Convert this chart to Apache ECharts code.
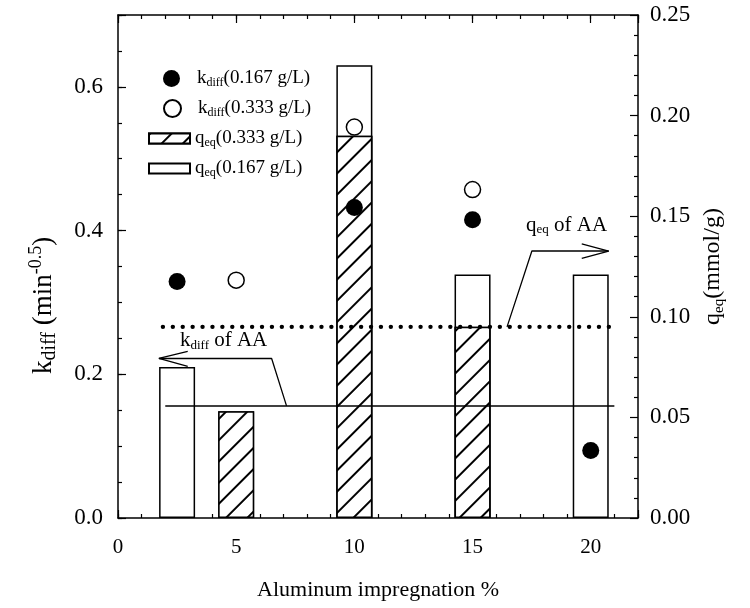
<!DOCTYPE html>
<html>
<head>
<meta charset="utf-8">
<script src="https://cdn.jsdelivr.net/npm/echarts@6/dist/echarts.min.js"></script>
<style>
html, body { margin: 0; background: #fff; }
#chart { width: 750px; height: 608px; }
</style>
</head>
<body>
<div id="chart"></div>
<script>
// k_diff points (left axis)
const kdiffX167 = [2.5, 10, 15, 20];
const kdiff167 = [0.329, 0.432, 0.415, 0.094];
const kdiffX333 = [5, 10, 15];
const kdiff333 = [0.331, 0.544, 0.457];
// q_eq bars (right axis)
const qeqX167 = [2.5, 10, 15, 20];
const qeq167 = [0.075, 0.225, 0.121, 0.121];
const qeqX333 = [5, 10, 15];
const qeq333 = [0.053, 0.190, 0.095];
// reference levels of AA
const aaRange = [1.9, 21];
const aaKdiff = 0.156;
const aaQeq = 0.095;

const FONT = 'Liberation Serif';
const pairs = (xs, ys) => xs.map((x, i) => [x, ys[i]]);

const rich = {
  a: { fontFamily: FONT, fontSize: 27, color: '#000' },
  s: { fontFamily: FONT, fontSize: 20, color: '#000', padding: [13, 0, 0, 0] },
  p: { fontFamily: FONT, fontSize: 18, color: '#000', padding: [0, 0, 15, 0] },
  r: { fontFamily: FONT, fontSize: 24, color: '#000' },
  rs: { fontFamily: FONT, fontSize: 15, color: '#000', padding: [11, 0, 0, 0] },
  b: { fontFamily: FONT, fontSize: 21, color: '#000' },
  bs: { fontFamily: FONT, fontSize: 13, color: '#000', padding: [10, 0, 0, 0] },
  l: { fontFamily: FONT, fontSize: 19, color: '#000' },
  ls: { fontFamily: FONT, fontSize: 12, color: '#000', padding: [9, 0, 0, 0] }
};

const legendText = {
  kdiff167: '{l|k}{ls|diff}{l|(0.167 g/L)}',
  kdiff333: '{l|k}{ls|diff}{l|(0.333 g/L)}',
  qeq333: '{l|q}{ls|eq}{l|(0.333 g/L)}',
  qeq167: '{l|q}{ls|eq}{l|(0.167 g/L)}'
};

const hatch = {
  symbol: 'rect', symbolSize: 1,
  dashArrayX: [1, 0], dashArrayY: [1.6, 12.5],
  rotation: -Math.PI / 4,
  color: '#000', backgroundColor: '#fff'
};

// onZero off: otherwise the top/right axes get pulled onto the other axis' zero
const lineAxis = { show: true, onZero: false, lineStyle: { color: '#000', width: 1.5 } };
const noLine = { show: false, onZero: false };
const tickStyle = { color: '#000', width: 1.2 };
const isMult = (v, step) => Math.abs(v / step - Math.round(v / step)) < 1e-6;

const chart = echarts.init(document.getElementById('chart'));

// one legend per row so the rows sit exactly 30px apart
const legendRows = [
  { name: 'kdiff167', left: 158, top: 64, w: 41, h: 17 },
  { name: 'kdiff333', left: 158, top: 94, w: 41, h: 17 },
  { name: 'qeq333', left: 143, top: 124, w: 41, h: 10 },
  { name: 'qeq167', left: 143, top: 154, w: 41, h: 10 }
];

const xBase = { type: 'value', min: 0, max: 22, splitLine: { show: false } };
const option = {
  animation: false,
  backgroundColor: '#fff',
  grid: { left: 118, right: 112, top: 15, bottom: 90 },
  legend: legendRows.map(r => ({
    data: [r.name], left: r.left, top: r.top,
    itemWidth: r.w, itemHeight: r.h, icon: r.h < 15 ? 'rect' : undefined,
    formatter: n => legendText[n], textStyle: { rich: rich }, selectedMode: false
  })),
  xAxis: [
    Object.assign({}, xBase, {
      position: 'bottom', interval: 1,
      axisLine: lineAxis,
      axisTick: { inside: true, length: 4, lineStyle: tickStyle },
      axisLabel: {
        margin: 19, fontFamily: FONT, fontSize: 21, color: '#000',
        formatter: v => (isMult(v, 5) ? String(v) : '')
      },
      name: 'Aluminum impregnation %', nameLocation: 'middle', nameGap: 61,
      nameTextStyle: { fontFamily: FONT, fontSize: 22, color: '#000' }
    }),
    Object.assign({}, xBase, {
      position: 'bottom', interval: 5,
      axisLine: noLine,
      axisTick: { inside: true, length: 8, lineStyle: tickStyle },
      axisLabel: { show: false }
    }),
    Object.assign({}, xBase, {
      position: 'top', interval: 1,
      axisLine: lineAxis,
      axisTick: { inside: true, length: 4, lineStyle: tickStyle },
      axisLabel: { show: false }
    }),
    Object.assign({}, xBase, {
      position: 'top', interval: 5,
      axisLine: noLine,
      axisTick: { inside: true, length: 8, lineStyle: tickStyle },
      axisLabel: { show: false }
    })
  ],
  yAxis: [
    {
      type: 'value', position: 'left', min: 0, max: 0.7, interval: 0.05,
      splitLine: { show: false },
      axisLine: lineAxis,
      axisTick: { inside: true, length: 4, lineStyle: tickStyle },
      axisLabel: {
        margin: 15, fontFamily: FONT, fontSize: 23, color: '#000',
        formatter: v => (isMult(v, 0.2) ? v.toFixed(1) : '')
      },
      name: '{a|k}{s|diff}{a| (min}{p|-0.5}{a|)}',
      nameLocation: 'middle', nameGap: 58, nameRotate: 90,
      nameTextStyle: { rich: rich, padding: [0, 78, 0, 0] }
    },
    {
      type: 'value', position: 'right', min: 0, max: 0.25, interval: 0.05,
      splitLine: { show: false },
      axisLine: lineAxis,
      axisTick: { inside: true, length: 8, lineStyle: tickStyle },
      minorTick: { show: true, splitNumber: 5, length: 4, lineStyle: tickStyle },
      axisLabel: {
        margin: 12, fontFamily: FONT, fontSize: 23, color: '#000',
        formatter: v => v.toFixed(2)
      },
      name: '{r|q}{rs|eq}{r|(mmol/g)}',
      nameLocation: 'middle', nameGap: 56, nameRotate: 90,
      nameTextStyle: { rich: rich }
    },
    {
      type: 'value', position: 'left', min: 0, max: 0.7, interval: 0.2,
      splitLine: { show: false },
      axisLine: noLine,
      axisTick: { inside: true, length: 8, lineStyle: tickStyle },
      axisLabel: { show: false }
    }
  ],
  series: [
    {
      name: 'qeq167', type: 'bar', yAxisIndex: 1, barWidth: 36, barGap: '-100%',
      itemStyle: { color: '#fff', borderColor: '#000', borderWidth: 1.5 },
      data: pairs(qeqX167, qeq167)
    },
    {
      name: 'qeq333', type: 'bar', yAxisIndex: 1, barWidth: 36, barGap: '-100%',
      itemStyle: { color: '#fff', borderColor: '#000', borderWidth: 1.5, decal: hatch },
      data: pairs(qeqX333, qeq333)
    },
    {
      name: 'aaQeq', type: 'line', yAxisIndex: 1, symbol: 'none', silent: true,
      lineStyle: { color: '#000', width: 4.4, type: [0.01, 9.9], cap: 'round' },
      data: aaRange.map(x => [x, aaQeq])
    },
    {
      name: 'aaKdiff', type: 'line', yAxisIndex: 0, symbol: 'none', silent: true,
      lineStyle: { color: '#000', width: 1.5 },
      data: aaRange.map(x => [x === aaRange[0] ? 2.0 : x, aaKdiff])
    },
    {
      name: 'kdiff167', type: 'scatter', yAxisIndex: 0, symbol: 'circle', symbolSize: 17,
      itemStyle: { color: '#000', opacity: 1 },
      data: pairs(kdiffX167, kdiff167)
    },
    {
      name: 'kdiff333', type: 'scatter', yAxisIndex: 0, symbol: 'circle', symbolSize: 16,
      itemStyle: { color: '#fff', borderColor: '#000', borderWidth: 1.5, opacity: 1 },
      data: pairs(kdiffX333, kdiff333)
    }
  ]
};

// annotation arrows, anchored in data coordinates
const kArrow = [[7.13, aaKdiff], [6.5, 0.222], [1.73, 0.222]];
const kHead = [[2.95, 0.232], [1.73, 0.222], [2.95, 0.211]];
const qArrow = [[16.46, aaQeq], [17.51, 0.1327], [20.76, 0.1327]];
const qHead = [[19.62, 0.1362], [20.76, 0.1327], [19.62, 0.1290]];
[[kArrow, 0], [kHead, 0], [qArrow, 1], [qHead, 1]].forEach(([d, ax]) => {
  option.series.push({
    type: 'line', yAxisIndex: ax, symbol: 'none', silent: true,
    lineStyle: { color: '#000', width: 1.3 }, data: d
  });
});

chart.setOption(option);

// annotation labels
const kLabelAt = chart.convertToPixel({ xAxisIndex: 0, yAxisIndex: 0 }, [2.62, 0.247]);
const qLabelAt = chart.convertToPixel({ xAxisIndex: 0, yAxisIndex: 1 }, [17.26, 0.1456]);
chart.setOption({
  graphic: [
    {
      type: 'text', x: kLabelAt[0], y: kLabelAt[1],
      style: { text: '{b|k}{bs|diff}{b| of AA}', rich: rich, verticalAlign: 'middle' }
    },
    {
      type: 'text', x: qLabelAt[0], y: qLabelAt[1],
      style: { text: '{b|q}{bs|eq}{b| of AA}', rich: rich, verticalAlign: 'middle' }
    }
  ]
});
</script>
</body>
</html>
